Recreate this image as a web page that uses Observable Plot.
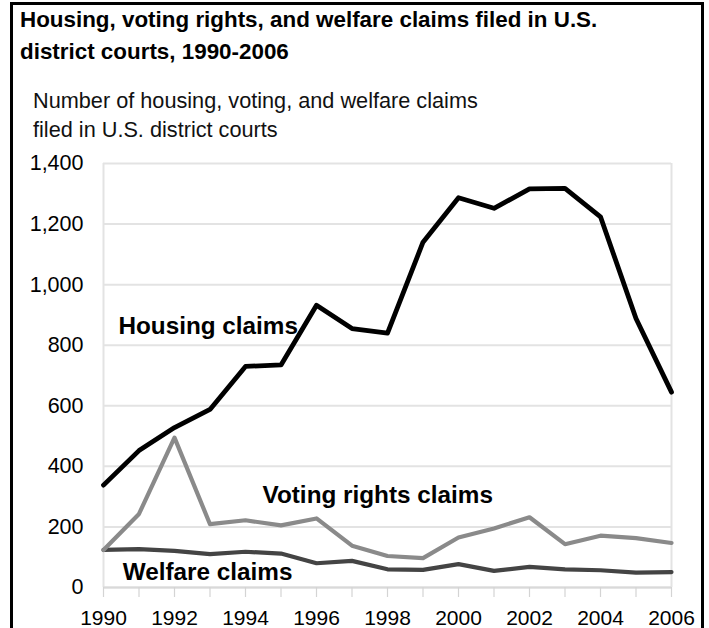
<!DOCTYPE html>
<html>
<head>
<meta charset="utf-8">
<script src="https://cdn.jsdelivr.net/npm/d3@7"></script>
<script src="https://cdn.jsdelivr.net/npm/@observablehq/plot@0.6"></script>
<style>
  html, body { margin: 0; padding: 0; background: #fff; }
  #wrap { position: relative; width: 709px; height: 628px; overflow: hidden; font-family: "Liberation Sans", Arial, sans-serif; }
  #frame { position: absolute; left: 10px; top: 2px; width: 688px; height: 640px; border: 3px solid #000; }
  #title { position: absolute; left: 20px; top: 4px; font-weight: bold; font-size: 22.4px; line-height: 32px; color: #000; white-space: nowrap; }
  #subtitle { position: absolute; left: 33px; top: 86px; font-size: 21.7px; line-height: 29px; color: #111; white-space: nowrap; }
  #chart { position: absolute; left: 0; top: 0; }
</style>
</head>
<body>
<div id="wrap">
  <div id="frame"></div>
  <div id="chart"></div>
  <div id="title">Housing, voting rights, and welfare claims filed in U.S.<br>district courts, 1990-2006</div>
  <div id="subtitle">Number of housing, voting, and welfare claims<br>filed in U.S. district courts</div>
</div>
<script>
const years = [1990,1991,1992,1993,1994,1995,1996,1997,1998,1999,2000,2001,2002,2003,2004,2005,2006];
const housing = [338,452,528,588,730,735,932,855,840,1140,1287,1252,1316,1318,1224,888,645];
const voting = [124,243,495,209,222,205,228,138,104,97,165,195,232,143,171,163,147];
const welfare = [124,127,121,110,118,112,80,88,60,58,77,55,68,60,57,49,51];
const seriesNames = ["Housing claims", "Voting rights claims", "Welfare claims"];
const seriesColors = ["#000000", "#8a8a8a", "#444444"];
const yTicks = [0,200,400,600,800,1000,1200,1400];
const xTicks = [1990,1992,1994,1996,1998,2000,2002,2004,2006];
const labelX = [1990.42, 1994.48, 1990.54];
const labelY = [862, 306, 52];

const rows = [];
[housing, voting, welfare].forEach((vals, i) => {
  years.forEach((yr, j) => rows.push({series: seriesNames[i], year: yr, value: vals[j]}));
});
const labels = seriesNames.map((s, i) => ({series: s, x: labelX[i], y: labelY[i]}));

const chart = Plot.plot({
  width: 709,
  height: 628,
  marginLeft: 103,
  marginRight: 38,
  marginTop: 163,
  marginBottom: 41,
  style: {fontFamily: "Liberation Sans, Arial, sans-serif", fontSize: "21px", background: "transparent", color: "#000"},
  x: {type: "linear", domain: [1990, 2006], axis: null},
  y: {type: "linear", domain: [0, 1400], axis: null},
  color: {domain: seriesNames, range: seriesColors},
  marks: [
    Plot.ruleY(yTicks, {x1: 1990, x2: 2006, stroke: "#e3e3e3", strokeWidth: 2, strokeOpacity: 1}),
    Plot.ruleX([1990, 2006], {y1: 0, y2: 1400, stroke: "#e3e3e3", strokeWidth: 2, strokeOpacity: 1}),
    Plot.ruleY([0], {x1: 1990, x2: 2006, stroke: "#d9d9d9", strokeWidth: 2, strokeOpacity: 1}),
    Plot.axisX(years, {tickSize: 10, text: null, stroke: "#d4d4d4", strokeWidth: 1.2, strokeOpacity: 1}),
    Plot.axisY(yTicks, {tickSize: 0, tickPadding: 20, tickFormat: d3.format(","), fontSize: 21.5, fill: "#000"}),
    Plot.axisX(xTicks, {tickSize: 0, tickPadding: 23, tickFormat: d => String(d), fontSize: 21, fill: "#000"}),
    Plot.line(rows.filter(d => d.series === "Welfare claims"), {x: "year", y: "value", stroke: "series", strokeWidth: 4.2}),
    Plot.line(rows.filter(d => d.series === "Voting rights claims"), {x: "year", y: "value", stroke: "series", strokeWidth: 4.2}),
    Plot.line(rows.filter(d => d.series === "Housing claims"), {x: "year", y: "value", stroke: "series", strokeWidth: 4.8}),
    Plot.text(labels, {x: "x", y: "y", text: "series", textAnchor: "start", fontWeight: "bold", fontSize: 24.3, fill: "#000"})
  ]
});
document.getElementById("chart").appendChild(chart);
</script>
</body>
</html>
